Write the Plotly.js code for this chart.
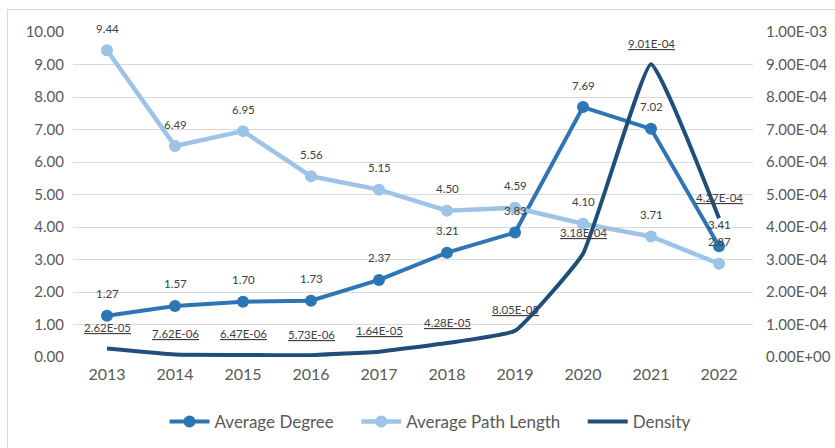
<!DOCTYPE html>
<html><head><meta charset="utf-8">
<script src="https://cdn.plot.ly/plotly-3.0.1.min.js"></script>
<style>
html,body{margin:0;padding:0;background:#fff;}
#frame{position:absolute;left:7px;top:9px;width:900px;height:500px;border-left:1px solid #d9d9d9;border-top:1px solid #d9d9d9;}
#chart{position:absolute;left:0;top:0;width:835px;height:448px;}
</style></head>
<body>
<div id="frame"></div>
<div id="chart"></div>
<script>
const years = [2013,2014,2015,2016,2017,2018,2019,2020,2021,2022];
const avgDegree = [1.27,1.57,1.70,1.73,2.37,3.21,3.83,7.69,7.02,3.41];
const avgPathLength = [9.44,6.49,6.95,5.56,5.15,4.50,4.59,4.10,3.71,2.87];
const density = [2.62e-5,7.62e-6,6.47e-6,5.73e-6,1.64e-5,4.28e-5,8.05e-5,3.18e-4,9.01e-4,4.27e-4];
const densityLabels = ['2.62E-05','7.62E-06','6.47E-06','5.73E-06','1.64E-05','4.28E-05','8.05E-05','3.18E-04','9.01E-04','4.27E-04'];
const rightTickVals = [0,1e-4,2e-4,3e-4,4e-4,5e-4,6e-4,7e-4,8e-4,9e-4,1e-3];
const rightTickText = ['0.00E+00','1.00E-04','2.00E-04','3.00E-04','4.00E-04','5.00E-04','6.00E-04','7.00E-04','8.00E-04','9.00E-04','1.00E-03'];
const seriesNames = ['Average Degree', 'Average Path Length', 'Density'];

const cDeg = '#2E75B6', cPath = '#9DC3E6', cDen = '#1F4E79';
const FONT = 'Lato, "Open Sans", sans-serif';
const grey = '#595959';
const pad = '\u00a0\u00a0\u00a0\u00a0';

const traces = [
  {x: years, y: avgDegree, name: seriesNames[0] + pad, mode: 'lines+markers', type: 'scatter',
   line: {color: cDeg, width: 4}, marker: {color: cDeg, size: 12}, yaxis: 'y'},
  {x: years, y: avgPathLength, name: seriesNames[1] + pad, mode: 'lines+markers', type: 'scatter',
   line: {color: cPath, width: 4.5}, marker: {color: cPath, size: 12}, yaxis: 'y'},
  {x: years, y: density, name: seriesNames[2], mode: 'lines', type: 'scatter',
   line: {color: cDen, width: 4, shape: 'spline', smoothing: 0.35}, yaxis: 'y2'}
];

const annotations = [];
const lblFont = {family: FONT, size: 11.5, color: '#404040'};
years.forEach((yr, i) => {
  annotations.push({x: yr, y: avgDegree[i], xref: 'x', yref: 'y', text: avgDegree[i].toFixed(2), showarrow: false, yshift: 22, font: lblFont});
  annotations.push({x: yr, y: avgPathLength[i], xref: 'x', yref: 'y', text: avgPathLength[i].toFixed(2), showarrow: false, yshift: 22, font: lblFont});
  annotations.push({x: yr, y: density[i], xref: 'x', yref: 'y2', text: '<u>' + densityLabels[i] + '</u>', showarrow: false, yshift: 21, font: lblFont});
});

const layout = {
  width: 835, height: 448,
  margin: {l: 73, r: 82, t: 32, b: 91},
  paper_bgcolor: 'rgba(0,0,0,0)', plot_bgcolor: 'rgba(0,0,0,0)',
  font: {family: FONT, color: grey},
  showlegend: true,
  legend: {orientation: 'h', xref: 'container', yref: 'container', x: 0.515, xanchor: 'center', y: 0.058, yanchor: 'middle',
           font: {family: FONT, size: 17, color: grey}, itemwidth: 40},
  xaxis: {range: [2012.5, 2022.5], tickvals: years, tickformat: 'd', showgrid: false, zeroline: false, showline: false, ticks: '',
          ticklabelstandoff: 6, tickfont: {family: FONT, size: 16, color: grey}},
  yaxis: {range: [0, 10], dtick: 1, tickformat: '.2f', gridcolor: '#d9d9d9', gridwidth: 1,
          zeroline: false, showline: false, ticks: '', ticklabelstandoff: 8,
          tickfont: {family: FONT, size: 15, color: grey}},
  yaxis2: {range: [0, 1e-3], overlaying: 'y', side: 'right', tickvals: rightTickVals, ticktext: rightTickText,
           showgrid: false, zeroline: false, showline: false, ticks: '', ticklabelstandoff: 12,
           tickfont: {family: FONT, size: 15, color: grey}},
  annotations: annotations
};

Plotly.newPlot('chart', traces, layout, {displayModeBar: false, staticPlot: true});
</script>
</body></html>
